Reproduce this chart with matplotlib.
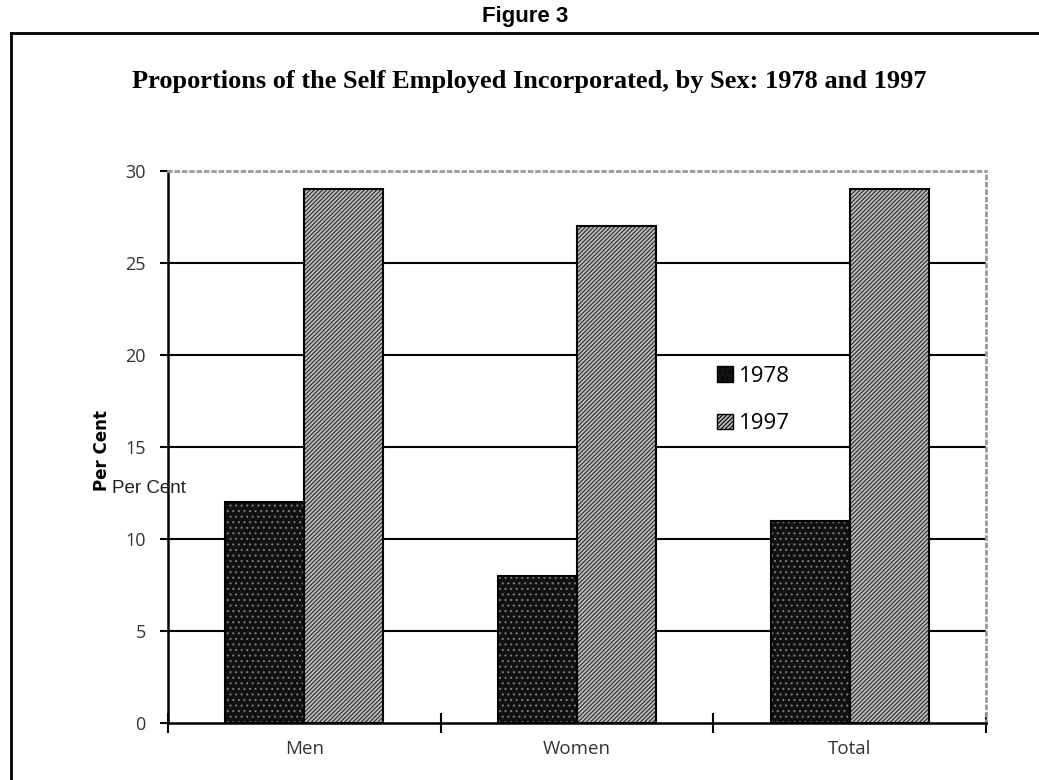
import matplotlib.pyplot as plt
import numpy as np
from matplotlib.lines import Line2D

# data
categories = ["Men", "Women", "Total"]
years = ["1978", "1997"]
pct_1978 = [12, 8, 11]
pct_1997 = [29, 27, 29]
y_ticks = [0, 5, 10, 15, 20, 25, 30]

plt.rcParams['hatch.linewidth'] = 0.8

fig = plt.figure(figsize=(10.39, 7.8), dpi=100)
ax = fig.add_axes([0.1617, 0.0731, 0.7873, 0.7077])

x = np.arange(len(categories))
w = 0.29

# 1978: black with light dotted texture
b1 = ax.bar(x - w / 2, pct_1978, w, facecolor='#111111', edgecolor='#7a7a7a',
            hatch='...', linewidth=0, zorder=3, label=years[0])
ax.bar(x - w / 2, pct_1978, w, facecolor='none', edgecolor='black', linewidth=1.5, zorder=4)

# 1997: grey diagonal hatch
b2 = ax.bar(x + w / 2, pct_1997, w, facecolor='#bdbdbd', edgecolor='#2a2a2a',
            hatch='////////', linewidth=0, zorder=3, label=years[1])
ax.bar(x + w / 2, pct_1997, w, facecolor='none', edgecolor='black', linewidth=1.5, zorder=4)

ax.set_xlim(-0.5, 2.5)
ax.set_ylim(0, 30)
ax.set_yticks(y_ticks)
ax.set_yticklabels([str(v) for v in y_ticks], fontsize=13, color='#333333', family='Open Sans')
ax.set_xticks([-0.5, 0.5, 1.5, 2.5])
ax.set_xticklabels([])
ax.set_xticks(x, minor=True)
ax.set_xticklabels(categories, minor=True, fontsize=13.5, color='#333333', family='Open Sans')
ax.tick_params(axis='x', which='major', direction='inout', length=14, width=1.5)
ax.tick_params(axis='x', which='minor', length=0, pad=12)
ax.tick_params(axis='y', direction='out', length=6, width=1.5, pad=10)

# gridlines
for v in y_ticks[1:-1]:
    ax.axhline(v, color='black', linewidth=1.5, zorder=1)

for side in ['top', 'right']:
    ax.spines[side].set_color('#9a9a9a')
    ax.spines[side].set_linestyle(':')
    ax.spines[side].set_linewidth(2)
ax.spines['left'].set_linewidth(1.8)
ax.spines['bottom'].set_linewidth(1.8)

leg = ax.legend(handles=[b1, b2], loc='upper left', bbox_to_anchor=(0.671, 0.557),
                bbox_transform=fig.transFigure, frameon=False,
                handlelength=0.7, handleheight=0.7, labelspacing=1.2, handletextpad=0.3,
                prop={'family': 'Open Sans', 'size': 16})
for h in leg.legend_handles:
    h.set_linewidth(1)
    h.set_edgecolor('black')

# y axis label quirks
fig.text(0.098, 0.422, "Per Cent", rotation=90, fontsize=12, fontweight='bold',
         family='DejaVu Sans', ha='center', va='center')
fig.text(0.108, 0.374, "Per Cent", fontsize=13.5,
         family='Liberation Sans', ha='left', va='center', color='#222222')

# titles
fig.text(0.505, 0.979, "Figure 3", fontsize=16, fontweight='bold',
         family='Liberation Sans', ha='center', va='center')
fig.text(0.509, 0.895, "Proportions of the Self Employed Incorporated, by Sex: 1978 and 1997",
         fontsize=19, fontweight='bold', family='Liberation Serif', ha='center', va='center')

# outer frame
fig.add_artist(Line2D([0.0105, 1.0], [0.958, 0.958], transform=fig.transFigure,
                      color='black', linewidth=2))
fig.add_artist(Line2D([0.0105, 0.0105], [0.0, 0.958], transform=fig.transFigure,
                      color='black', linewidth=2))

fig.savefig("out.png", dpi=100)
